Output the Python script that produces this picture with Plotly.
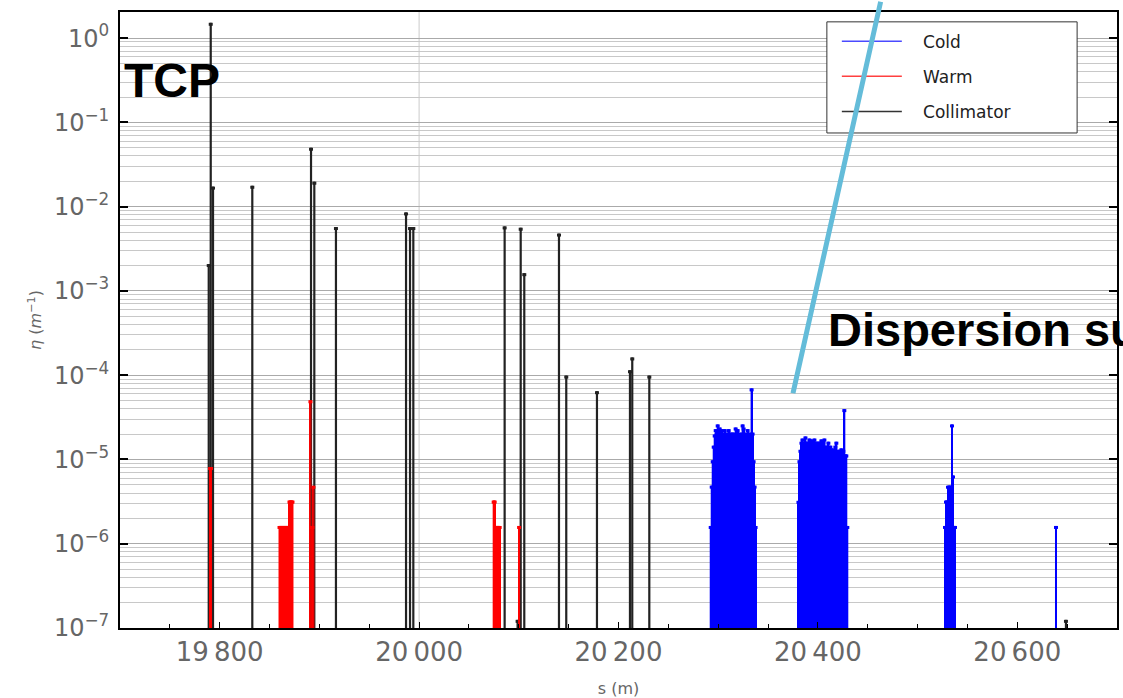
import plotly.graph_objects as go

# ---------------- data ----------------
BIN_W = 1.0          # bin length along s (m)
FLOOR = 1e-9         # value used to drop each spike below the axis

# Collimator losses (spike centres and values)
COLL_S = [19789.0, 19791.0, 19793.3, 19832.7, 19891.6, 19894.9, 19916.6,
          19986.9, 19990.9, 19994.2, 20085.8, 20098.8, 20101.9, 20105.5,
          20140.3, 20147.6, 20178.4, 20211.5, 20213.8, 20230.9, 20648.8]
COLL_ETA = [2.0e-3, 1.46, 1.66e-2, 1.7e-2, 4.8e-2, 1.9e-2, 5.5e-3,
            8.2e-3, 5.5e-3, 5.5e-3, 5.6e-3, 1.2e-7, 5.4e-3, 1.56e-3,
            4.6e-3, 9.5e-5, 6.2e-5, 1.1e-4, 1.56e-4, 9.5e-5, 1.2e-7]

# Warm losses: block start positions and bin values
WARM_STARTS = [19789.8, 19859.5, 19890.5, 20074.3, 20099.8]
WARM_A = [7.8e-6, 7.8e-6]
WARM_B = [1.56e-6, 1.56e-6, 1.56e-6, 1.56e-6, 1.56e-6, 1.56e-6, 1.56e-6,
          1.56e-6, 1.56e-6, 1.56e-6, 3.12e-6, 3.12e-6, 3.12e-6, 3.12e-6]
WARM_C = [4.84e-5, 1.56e-6, 1.56e-6, 4.68e-6]
WARM_D = [3.12e-6, 3.12e-6, 1.56e-6, 1.56e-6, 1.56e-6, 1.56e-6, 1.56e-6]
WARM_E = [1.56e-6]

# Cold losses: block start positions and bin values
COLD_STARTS = [20292.0, 20380.0, 20527.0, 20638.3]
COLD_A = [1.56e-6, 4.7e-6, 9.4e-6, 1.4e-5, 1.9e-5, 2.2e-5, 2.0e-5, 2.5e-5,
          1.9e-5, 2.3e-5, 2.0e-5, 2.2e-5, 1.9e-5, 2.0e-5, 2.2e-5, 1.9e-5,
          2.0e-5, 1.9e-5, 2.2e-5, 2.0e-5, 1.9e-5, 2.0e-5, 1.7e-5, 2.0e-5,
          1.9e-5, 2.3e-5, 1.9e-5, 2.2e-5, 2.0e-5, 1.7e-5, 1.9e-5, 2.0e-5,
          2.5e-5, 2.3e-5, 1.9e-5, 2.0e-5, 1.7e-5, 2.2e-5, 1.9e-5, 2.0e-5,
          1.9e-5, 6.7e-5, 2.0e-5, 9.4e-6, 4.7e-6, 1.56e-6]
COLD_B = [3.1e-6, 9.4e-6, 1.25e-5, 1.56e-5, 1.7e-5, 1.56e-5, 1.4e-5, 1.8e-5,
          1.56e-5, 1.4e-5, 1.56e-5, 1.7e-5, 1.4e-5, 1.66e-5, 1.56e-5, 1.4e-5,
          1.7e-5, 1.56e-5, 1.25e-5, 1.56e-5, 1.4e-5, 1.56e-5, 1.25e-5, 1.66e-5,
          1.4e-5, 1.56e-5, 1.7e-5, 1.4e-5, 1.25e-5, 1.4e-5, 1.56e-5, 1.25e-5,
          1.4e-5, 1.1e-5, 1.3e-5, 1.25e-5, 1.1e-5, 1.4e-5, 1.56e-5, 1.25e-5,
          1.1e-5, 1.25e-5, 1.1e-5, 1.3e-5, 1.1e-5, 1.25e-5, 3.8e-5, 1.1e-5,
          1.1e-5, 1.56e-6]
COLD_C = [1.56e-6, 3.12e-6, 3.12e-6, 4.68e-6, 4.68e-6, 4.68e-6, 4.68e-6,
          2.5e-5, 6.2e-6, 1.56e-6, 1.56e-6]
COLD_D = [1.56e-6]

X_TICK_VALS = [19800, 20000, 20200, 20400, 20600]
X_TICK_TEXT = ["19\u2009800", "20\u2009000", "20\u2009200", "20\u2009400", "20\u2009600"]
Y_TICK_VALS = [1e-7, 1e-6, 1e-5, 1e-4, 1e-3, 1e-2, 1e-1, 1e0]
Y_TICK_TEXT = ["10<sup>\u22127</sup>", "10<sup>\u22126</sup>", "10<sup>\u22125</sup>",
               "10<sup>\u22124</sup>", "10<sup>\u22123</sup>", "10<sup>\u22122</sup>",
               "10<sup>\u22121</sup>", "10<sup>0</sup>"]
X_GRID = [20000]
LEGEND_NAMES = ["Cold", "Warm", "Collimator"]
LEGEND_COLORS = ["#4a4aff", "#ff4040", "#333333"]

COLD_COLOR = "#0000ff"
WARM_COLOR = "#ff0000"
COLL_COLOR = "#222222"


def step_outline(starts, blocks, w):
    xs, ys, cx, cy = [], [], [], []
    for s0, vals in zip(starts, blocks):
        for i, v in enumerate(vals):
            left = s0 + i * w
            right = left + w
            xs += [left, left, right, right, None]
            ys += [FLOOR, v, v, FLOOR, None]
            cx.append(left + w / 2)
            cy.append(v)
    return xs, ys, cx, cy


fig = go.Figure()

# collimators (drawn first)
cxs, cys, _, _ = step_outline([s - BIN_W / 2 for s in COLL_S], [[v] for v in COLL_ETA], BIN_W)
fig.add_trace(go.Scatter(x=cxs, y=cys, mode="lines+markers", showlegend=False,
                         line=dict(color=COLL_COLOR, width=1.2),
                         marker=dict(symbol="square", size=3, color=COLL_COLOR)))

# warm
wx, wy, wbx, wby = step_outline(WARM_STARTS, [WARM_A, WARM_B, WARM_C, WARM_D, WARM_E], BIN_W)
fig.add_trace(go.Bar(x=wbx, y=wby, width=BIN_W, marker=dict(color=WARM_COLOR, line=dict(width=0)),
                     showlegend=False))
fig.add_trace(go.Scatter(x=wx, y=wy, mode="lines+markers", showlegend=False,
                         line=dict(color=WARM_COLOR, width=1),
                         marker=dict(symbol="square", size=3, color=WARM_COLOR)))

# cold
kx, ky, kbx, kby = step_outline(COLD_STARTS, [COLD_A, COLD_B, COLD_C, COLD_D], BIN_W)
fig.add_trace(go.Bar(x=kbx, y=kby, width=BIN_W, marker=dict(color=COLD_COLOR, line=dict(width=0)),
                     showlegend=False))
fig.add_trace(go.Scatter(x=kx, y=ky, mode="lines+markers", showlegend=False,
                         line=dict(color=COLD_COLOR, width=1),
                         marker=dict(symbol="square", size=3, color=COLD_COLOR)))

# legend entries
for name, col in zip(LEGEND_NAMES, LEGEND_COLORS):
    fig.add_trace(go.Scatter(x=[None], y=[None], mode="lines",
                             name="\u00a0\u00a0\u00a0" + name,
                             legendgroup=name, line=dict(color=col, width=1.5)))

for gx in X_GRID:
    fig.add_shape(type="line", xref="x", yref="paper", x0=gx, x1=gx, y0=0, y1=1,
                  line=dict(color="#cccccc", width=1), layer="below")

# legend frame (white box with dark border, like the reference)
fig.add_shape(type="rect", xref="paper", yref="paper", x0=0.709, x1=0.960,
              y0=0.8036, y1=0.984, fillcolor="white",
              line=dict(color="#333333", width=1), layer="above")

fig.update_layout(
    width=1123, height=698,
    margin=dict(l=120, r=6, t=12, b=70),
    plot_bgcolor="white", paper_bgcolor="white",
    barmode="overlay", bargap=0,
    font=dict(family="DejaVu Sans", color="#666666"),
    legend=dict(x=0.719, y=0.981, xanchor="left", yanchor="top",
                bgcolor="rgba(0,0,0,0)", borderwidth=0,
                font=dict(size=17, color="#222222"), tracegroupgap=10,
                itemwidth=60),
    xaxis=dict(range=[19700, 20700], tickvals=X_TICK_VALS, ticktext=X_TICK_TEXT,
               automargin=False,
               ticks="inside", ticklen=6, tickwidth=1, tickcolor="black",
               showgrid=False, zeroline=False,
               showline=True, linewidth=2, linecolor="black", mirror=True,
               tickfont=dict(size=26, color="#666666"),
               minor=dict(dtick=50, tick0=19700, ticks="inside", ticklen=4,
                          tickwidth=1, tickcolor="black", showgrid=False),
               title=dict(text="s (m)", font=dict(size=16, color="#666666"), standoff=18)),
    yaxis=dict(type="log", range=[-7, 0.31], tickvals=Y_TICK_VALS, ticktext=Y_TICK_TEXT,
               automargin=False,
               ticks="inside", ticklen=8, tickwidth=1.5, tickcolor="black",
               showgrid=True, gridcolor="#aaaaaa", gridwidth=1, zeroline=False,
               showline=True, linewidth=2, linecolor="black", mirror="ticks",
               tickfont=dict(size=24, color="#666666"), ticklabelstandoff=4,
               minor=dict(dtick="D1", showgrid=True, gridcolor="#c8c8c8", ticks=""),
               title=dict(text="<i>\u03b7</i> (<i>m</i><sup>\u22121</sup>)",
                          font=dict(size=16, color="#666666"), standoff=8)),
)

# slide overlays
fig.add_annotation(text="<b>TCP</b>", xref="paper", yref="paper", x=0.002, y=0.8896,
                   xanchor="left", yanchor="middle", showarrow=False,
                   font=dict(family="Liberation Sans", size=48, color="black"))
fig.add_annotation(text="<b>Dispersion suppressor</b>", xref="paper", yref="paper",
                   x=0.708, y=0.484, xanchor="left", yanchor="middle", showarrow=False,
                   font=dict(family="Liberation Sans", size=47, color="black"))
fig.add_annotation(text="", xref="paper", yref="paper", x=0.675, y=0.381,
                   axref="pixel", ayref="pixel", ax=88, ay=-393, showarrow=True,
                   arrowhead=0, arrowwidth=5, arrowcolor="#64bcd9", standoff=0)

fig.write_html("out.html")
